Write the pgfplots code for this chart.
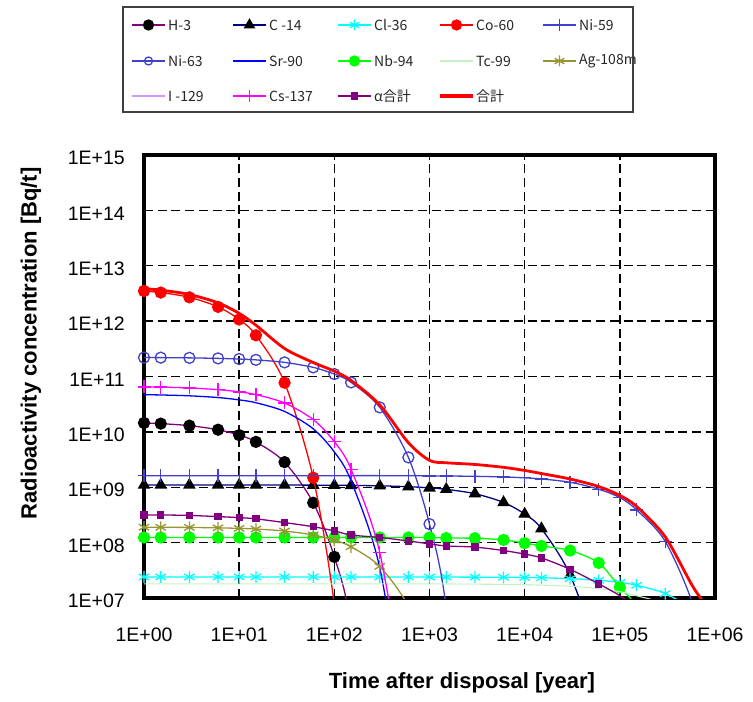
\documentclass[border=0pt]{standalone}
\usepackage{fontspec}
\setmainfont{Liberation Sans}
\newfontfamily\jp{Noto Sans CJK JP}
\usepackage{pgfplots}
\pgfplotsset{compat=1.18}
\definecolor{cH}{HTML}{800080}
\definecolor{cC}{HTML}{000080}
\definecolor{cCl}{HTML}{00FFFF}
\definecolor{cCo}{HTML}{FF0000}
\definecolor{cNi}{HTML}{4040C8}
\definecolor{cSr}{HTML}{0000FF}
\definecolor{cNb}{HTML}{00FF00}
\definecolor{cTc}{HTML}{C4F2C4}
\definecolor{cAg}{HTML}{969632}
\definecolor{lavI}{HTML}{CC99FF}
\definecolor{magCs}{HTML}{FF00FF}
\definecolor{cA}{HTML}{800080}
\begin{document}
\begin{tikzpicture}
\path[use as bounding box] (0,0) rectangle (753pt,-702pt);
\begin{axis}[
  at={(144pt,-598pt)}, anchor=south west,
  width=571pt, height=443pt, scale only axis,
  xmode=log, ymode=log,
  xmin=1, xmax=1e6, ymin=1e7, ymax=1e15,
  xtick={1,10,100,1000,1e4,1e5,1e6},
  xticklabels={1E+00,1E+01,1E+02,1E+03,1E+04,1E+05,1E+06},
  ytick={1e7,1e8,1e9,1e10,1e11,1e12,1e13,1e14,1e15},
  yticklabels={1E+07,1E+08,1E+09,1E+10,1E+11,1E+12,1E+13,1E+14,1E+15},
  xminorticks=false, yminorticks=false,
  grid=major,
  major grid style={black, line width=1.4pt, dash pattern=on 9pt off 4.7pt},
  axis line style={black, line width=4pt},
  tick style={black, line width=1.2pt},
  major tick length=5pt,
  ticklabel style={font=\fontsize{19.5}{20}\selectfont},
  xticklabel style={inner sep=0pt, yshift=-30pt},
  yticklabel style={inner sep=0pt, xshift=-19pt, yshift=-3pt},
  clip mode=individual,
]
% H-3
\addplot[smooth, cH, line width=1.3pt, mark=*, mark size=5.5pt, mark options={fill=black, draw=black}, mark indices={1,2,3,4,5,6,7,8,9}] coordinates {
(1,1.45e10) (1.5,1.41e10) (3,1.296e10) (6,1.094e10) (10,8.74e9) (15,6.60e9) (30,2.84e9) (60,5.25e8) (100,5.53e7) (150,3.32e6) (300,7e2)};
% C-14
\addplot[smooth, cC, line width=1.3pt, mark=triangle*, mark size=6pt, mark options={fill=black, draw=black}, mark indices={1,2,3,4,5,6,7,8,9,10,11,12,13,14,15,16,17,18,19}] coordinates {
(1,1.1e9) (1.5,1.1e9) (3,1.1e9) (6,1.099e9) (10,1.099e9) (15,1.098e9) (30,1.096e9) (60,1.092e9) (100,1.087e9) (150,1.080e9) (300,1.061e9) (600,1.023e9) (1000,9.75e8) (1500,9.18e8) (3000,7.65e8) (6000,5.32e8) (1e4,3.28e8) (1.5e4,1.79e8) (3e4,2.6e7) (6e4,7.7e5) (1e5,6.1e3)};
% Cl-36
\addplot[smooth, cCl, line width=1.3pt, mark=asterisk, mark size=6pt, mark options={line width=1.3pt}, mark indices={1,2,3,4,5,6,7,8,9,10,11,12,13,14,15,16,17,18,19,20,21,22,23}] coordinates {
(1,2.4e7) (1.5,2.4e7) (3,2.4e7) (6,2.4e7) (10,2.4e7) (15,2.4e7) (30,2.4e7) (60,2.4e7) (100,2.4e7) (150,2.4e7) (300,2.4e7) (600,2.4e7) (1000,2.39e7) (1500,2.39e7) (3000,2.38e7) (6000,2.37e7) (1e4,2.35e7) (1.5e4,2.32e7) (3e4,2.24e7) (6e4,2.09e7) (1e5,1.91e7) (1.5e5,1.70e7) (3e5,1.20e7) (6e5,6.0e6) (1e6,2.4e6)};
% Co-60
\addplot[smooth, cCo, line width=1.3pt, mark=*, mark size=5.5pt, mark indices={1,2,3,4,5,6,7,8}] coordinates {
(1,3.5e12) (1.5,3.28e12) (3,2.69e12) (6,1.81e12) (10,1.07e12) (15,5.55e11) (30,7.72e10) (60,1.49e9) (100,7.7e6) (150,1.07e4)};
% Ni-59
\addplot[smooth, cNi, line width=1.3pt, mark=+, mark size=6.5pt, mark options={line width=1.3pt}, mark indices={1,2,3,4,5,6,7,8,9,10,11,12,13,14,15,16,17,18,19,20,21,22,23}] coordinates {
(1,1.62e9) (1.5,1.62e9) (3,1.62e9) (6,1.62e9) (10,1.62e9) (15,1.62e9) (30,1.62e9) (60,1.62e9) (100,1.62e9) (150,1.62e9) (300,1.62e9) (600,1.61e9) (1000,1.605e9) (1500,1.598e9) (3000,1.576e9) (6000,1.534e9) (1e4,1.479e9) (1.5e4,1.413e9) (3e4,1.232e9) (6e4,9.2e8) (1e5,6.5e8) (1.5e5,3.9e8) (3e5,1.05e8) (6e5,6.8e6) (1e6,1.8e5)};
% Ni-63
\addplot[smooth, cNi, line width=1.3pt, mark=o, mark size=5.5pt, mark options={line width=1.3pt}, mark indices={1,2,3,4,5,6,7,8,9,10,11,12,13}] coordinates {
(1,2.2e11) (1.5,2.192e11) (3,2.170e11) (6,2.125e11) (10,2.067e11) (15,1.997e11) (30,1.799e11) (60,1.462e11) (100,1.107e11) (150,7.83e10) (300,2.77e10) (600,3.46e9) (1000,2.16e8) (1500,6.8e6) (3000,2.1e2)};
% Sr-90
\addplot[smooth, cSr, line width=1.3pt] coordinates {
(1,4.7e10) (1.5,4.64e10) (3,4.48e10) (6,4.17e10) (10,3.78e10) (15,3.36e10) (30,2.34e10) (60,1.136e10) (100,4.34e9) (150,1.30e9) (300,3.52e7) (600,2.6e4)};
% Nb-94
\addplot[smooth, cNb, line width=1.3pt, mark=*, mark size=5.5pt, mark indices={1,2,3,4,5,6,7,8,9,10,11,12,13,14,15,16,17,18,19,20,21}] coordinates {
(1,1.24e8) (1.5,1.24e8) (3,1.24e8) (6,1.24e8) (10,1.24e8) (15,1.24e8) (30,1.24e8) (60,1.24e8) (100,1.24e8) (150,1.24e8) (300,1.24e8) (600,1.24e8) (1000,1.24e8) (1500,1.21e8) (3000,1.2e8) (6000,1.12e8) (1e4,9.8e7) (1.5e4,8.7e7) (3e4,7.2e7) (6e4,4.3e7) (1e5,1.55e7) (1.5e5,6.8e6) (3e5,5e5)};
% Tc-99
\addplot[smooth, cTc, line width=1.1pt] coordinates {
(1,1.8e7) (10,1.8e7) (100,1.8e7) (1000,1.8e7) (1500,1.79e7) (3000,1.78e7) (6000,1.76e7) (1e4,1.74e7) (1.5e4,1.71e7) (3e4,1.63e7) (6e4,1.48e7) (1e5,1.30e7) (1.5e5,1.10e7) (3e5,7.5e6) (6e5,2.5e6)};
% Ag-108m
\addplot[smooth, cAg, line width=1.3pt, mark=asterisk, mark size=6pt, mark options={line width=1.3pt}, mark indices={1,2,3,4,5,6,7,8,9,10,11}] coordinates {
(1,1.9e8) (1.5,1.895e8) (3,1.88e8) (6,1.85e8) (10,1.81e8) (15,1.76e8) (30,1.62e8) (60,1.377e8) (100,1.107e8) (150,8.42e7) (300,3.72e7) (600,7.2e6) (1000,8.1e5)};
% I-129
\addplot[smooth, lavI, line width=1.1pt] coordinates {
(1,4e6) (100,4e6) (1e4,4e6) (1e6,4e6)};
% Cs-137
\addplot[smooth, magCs, line width=1.3pt, mark=+, mark size=6.5pt, mark options={line width=1.3pt}, mark indices={1,2,3,4,5,6,7,8,9,10,11}] coordinates {
(1,6.5e10) (1.5,6.43e10) (3,6.21e10) (6,5.79e10) (10,5.28e10) (15,4.71e10) (30,3.33e10) (60,1.67e10) (100,6.65e9) (150,2.10e9) (300,6.65e7) (600,6.7e4)};
% alpha total
\addplot[smooth, cA, line width=1.3pt, mark=square*, mark size=3pt, mark indices={1,2,3,4,5,6,7,8,9,10,11,12,13,14,15,16,17,18,19,20}] coordinates {
(1,3.16e8) (1.5,3.16e8) (3,3.1e8) (6,2.95e8) (10,2.83e8) (15,2.69e8) (30,2.3e8) (60,1.94e8) (100,1.63e8) (150,1.37e8) (300,1.24e8) (600,1.07e8) (1000,9.5e7) (1500,8.7e7) (3000,8.3e7) (6000,7.2e7) (1e4,6.2e7) (1.5e4,5.3e7) (3e4,3.3e7) (6e4,1.8e7) (1e5,1.1e7) (1.5e5,6.5e6) (3e5,2e6)};
% total
\addplot[smooth, cCo, line width=2.8pt] coordinates {
(1,3.85e12) (1.5,3.63e12) (3,3.03e12) (6,2.14e12) (10,1.38e12) (15,8.45e11) (30,3.2e11) (60,1.79e11) (100,1.25e11) (150,8.48e10) (300,3.08e10) (600,6.38e9) (1000,3.06e9) (1500,2.77e9) (3000,2.58e9) (6000,2.29e9) (1e4,2.01e9) (1.5e4,1.77e9) (3e4,1.41e9) (6e4,1.03e9) (1e5,7.1e8) (1.5e5,4.5e8) (3e5,1.27e8) (6e5,1.5e7) (1e6,4.6e6)};
\end{axis}
% ---- legend (key) drawn in its own pixel-scaled axis ----
\begin{axis}[
  at={(0pt,-702pt)}, anchor=south west,
  width=753pt, height=702pt, scale only axis,
  xmin=0, xmax=753, ymin=-702, ymax=0,
  hide axis, clip=false,
  nodes={font=\jp\fontsize{14}{16}\selectfont, text=black!85, anchor=west, inner sep=0pt},
]
\addplot[cH, line width=1.3pt, mark=*, mark size=5pt, mark options={fill=black, draw=black}, mark indices={2}] coordinates {(132,-25) (148.5,-25) (165,-25)};
\addplot[cC, line width=1.3pt, mark=triangle*, mark size=5.5pt, mark options={fill=black, draw=black}, mark indices={2}] coordinates {(233,-25) (249.5,-25) (266,-25)};
\addplot[cCl, line width=1.3pt, mark=asterisk, mark size=5.5pt, mark indices={2}] coordinates {(338,-25) (354.5,-25) (371,-25)};
\addplot[cCo, line width=1.3pt, mark=*, mark size=5pt, mark indices={2}] coordinates {(440,-25) (456.5,-25) (473,-25)};
\addplot[cNi, line width=1.3pt, mark=+, mark size=6pt, mark indices={2}] coordinates {(543,-25) (559.5,-25) (576,-25)};
\addplot[cNi, line width=1.3pt, mark=o, mark size=4pt, mark indices={2}] coordinates {(132,-61) (148.5,-61) (165,-61)};
\addplot[cSr, line width=1.3pt] coordinates {(233,-61) (266,-61)};
\addplot[cNb, line width=1.3pt, mark=*, mark size=5pt, mark indices={2}] coordinates {(338,-61) (354.5,-61) (371,-61)};
\addplot[cTc, line width=1.1pt] coordinates {(440,-61) (473,-61)};
\addplot[cAg, line width=1.3pt, mark=asterisk, mark size=5.5pt, mark indices={2}] coordinates {(543,-61) (559.5,-61) (576,-61)};
\addplot[lavI, line width=1.1pt] coordinates {(132,-96) (165,-96)};
\addplot[magCs, line width=1.3pt, mark=+, mark size=6pt, mark indices={2}] coordinates {(233,-96) (249.5,-96) (266,-96)};
\addplot[cA, line width=1.3pt, mark=square*, mark size=3pt, mark indices={2}] coordinates {(338,-96) (354.5,-96) (371,-96)};
\addplot[cCo, line width=4pt] coordinates {(440,-96) (473,-96)};
\node at (axis cs:168,-25) {H-3};
\node at (axis cs:269,-25) {C -14};
\node at (axis cs:374,-25) {Cl-36};
\node at (axis cs:476,-25) {Co-60};
\node at (axis cs:579,-25) {Ni-59};
\node at (axis cs:168,-61) {Ni-63};
\node at (axis cs:269,-61) {Sr-90};
\node at (axis cs:374,-61) {Nb-94};
\node at (axis cs:476,-61) {Tc-99};
\node at (axis cs:579,-61) {Ag-108m};
\node at (axis cs:168,-96) {I -129};
\node at (axis cs:269,-96) {Cs-137};
\node at (axis cs:374,-96) {α合計};
\node at (axis cs:476,-96) {合計};
\end{axis}
\draw[black!75, line width=1.5pt] (123pt,-7pt) rectangle (633pt,-112pt);
\node[font=\bfseries\fontsize{22}{24}\selectfont, rotate=90] at (31pt,-343.5pt) {Radioactivity concentration [Bq/t]};
\node[font=\bfseries\fontsize{22}{24}\selectfont, anchor=base] at (462pt,-688pt) {Time after disposal [year]};
\end{tikzpicture}
\end{document}
